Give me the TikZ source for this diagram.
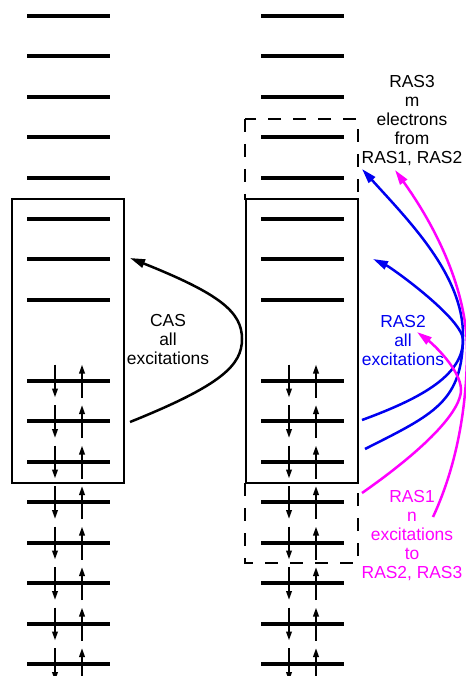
\documentclass[tikz,border=0pt]{standalone}
\usepackage{fontspec}
\setmainfont{Liberation Sans}
\usetikzlibrary{arrows.meta}
\definecolor{rasblue}{RGB}{0,0,240}
\definecolor{rasmag}{RGB}{255,0,255}
\begin{document}
\begin{tikzpicture}[x=1pt,y=1pt,
  orbital/.style={line width=4pt},
  activebox/.style={draw,line width=2pt},
  rasbox/.style={draw,line width=2.5pt,dash pattern=on 13pt off 12pt},
  spin/.style={line width=2pt,-{Triangle[length=9pt,width=5.5pt]}},
  exc/.style={line width=2.5pt,-{Triangle[length=15pt,width=8.5pt]}},
  lbl/.style={align=center,inner sep=0pt,font=\fontsize{17.4}{19}\selectfont}]
\useasboundingbox (0,0) rectangle (465,-676);
% orbital levels and electrons
\foreach \dx in {0,234}{
  \foreach \k in {0,1,2,3,4,5,6,7,9,10,11,12,13,14,15,16}{
    \draw[orbital] (27+\dx,-16-40.5*\k) -- (110+\dx,-16-40.5*\k);
  }
  \foreach \k in {9,...,16}{
    \draw[spin] (55+\dx,-16-40.5*\k+16) -- (55+\dx,-16-40.5*\k-17);
    \draw[spin] (82+\dx,-16-40.5*\k-17) -- (82+\dx,-16-40.5*\k+16);
  }
}
% spaces
\draw[activebox] (12,-199) rectangle (124,-483);
\draw[activebox] (246,-199) rectangle (358,-483);
\draw[rasbox] (245,-119) rectangle (358,-199);
\draw[rasbox] (245,-483) rectangle (358,-563);
% labels
\node[lbl] (cas) at (168,-340) {CAS\\all\\excitations};
\node[lbl] (ras3) at (412,-121) {RAS3\\m\\electrons\\from\\RAS1, RAS2};
\node[lbl,text=rasblue] (ras2) at (403,-341) {RAS2\\all\\excitations};
\node[lbl,text=rasmag] (ras1) at (412,-536) {RAS1\\n\\excitations\\to\\RAS2, RAS3};
% excitation arrows
\coordinate (casS) at (130,-422);
\coordinate (casM) at (242,-339);
\coordinate (casE) at (130,-258);
\draw[exc] (casS) .. controls (222,-385) and (242,-365) .. (casM)
  .. controls (242,-312) and (220,-294) .. (casE);
\coordinate (bAs) at (365,-449);
\coordinate (bAm) at (463,-335);
\coordinate (bAe) at (362,-169);
\draw[exc,rasblue] (bAs) .. controls (434,-414) and (463,-402) .. (bAm)
  .. controls (463,-275) and (409,-221) .. (bAe);
\coordinate (bBs) at (362,-420);
\coordinate (bBm) at (463,-340);
\coordinate (bBe) at (373,-259);
\draw[exc,rasblue] (bBs) .. controls (425,-397) and (463,-374) .. (bBm)
  .. controls (463,-319) and (392,-268) .. (bBe);
\coordinate (mAs) at (362,-493);
\coordinate (mAm) at (461,-390);
\coordinate (mAe) at (417,-332);
\draw[exc,rasmag] (mAs) .. controls (432,-444) and (461,-409) .. (mAm)
  .. controls (461,-370) and (433,-344) .. (mAe);
\coordinate (mBs) at (433,-517);
\coordinate (mBm) at (467,-350);
\coordinate (mBe) at (395,-170);
\draw[exc,rasmag] (mBs) .. controls (459,-461) and (467,-400) .. (mBm)
  .. controls (467,-290) and (436,-227) .. (mBe);
\end{tikzpicture}
\end{document}
